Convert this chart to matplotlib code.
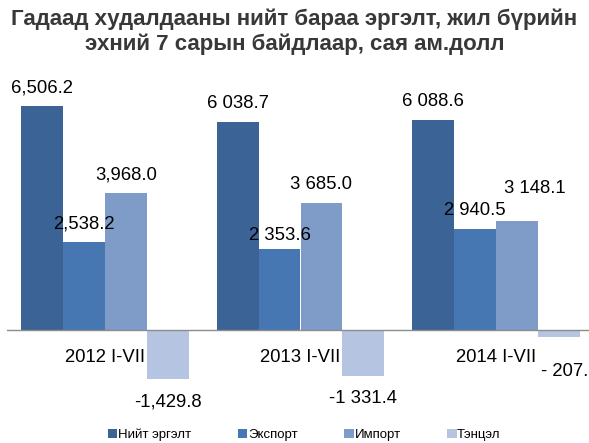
import matplotlib
matplotlib.use("Agg")
import matplotlib.pyplot as plt
import numpy as np

plt.rcParams['font.family'] = ['Liberation Sans', 'DejaVu Sans']

# өгөгдөл
categories = ['2012 I-VII', '2013 I-VII', '2014 I-VII']
series_names = ['Нийт эргэлт', 'Экспорт', 'Импорт', 'Тэнцэл']
turnover = [6506.2, 6038.7, 6088.6]
exports = [2538.2, 2353.6, 2940.5]
imports = [3968.0, 3685.0, 3148.1]
balance = [-1429.8, -1331.4, -207.6]
value_labels = [
    ['6,506.2', '6 038.7', '6 088.6'],
    ['2,538.2', '2 353.6', '2 940.5'],
    ['3,968.0', '3 685.0', '3 148.1'],
    ['-1,429.8', '-1 331.4', '- 207.6'],
]

colors = ['#3C6396', '#4677B2', '#7F9BC8', '#B4C4E1']

W, H = 589, 443
fig = plt.figure(figsize=(W / 100, H / 100), dpi=100)
# тэнхлэгийн байрлал (пикселээр тооцсон)
ax = fig.add_axes([7 / W, (H - 381.75) / H, 587 / W, 293.25 / H])

x = np.arange(len(categories))
w = 0.2143
data = [turnover, exports, imports, balance]

for i, vals in enumerate(data):
    ax.bar(x + (i - 1.5) * w, vals, w, color=colors[i], label=series_names[i], zorder=2)

ax.axhline(0, color='#8c8c8c', lw=1.0, zorder=3)
ax.set_xlim(-0.5, 2.5)
ax.set_ylim(-1500, 7000)
for s in ax.spines.values():
    s.set_visible(False)
ax.set_xticks([])
ax.set_yticks([])

# утгын шошгууд, зарим нь гараар зөөгдсөн
px = 72 / 100
special = {(1, 1): (0, 13), (2, 2): (18, 33), (3, 2): (11, -34)}
for i, vals in enumerate(data):
    for j, v in enumerate(vals):
        dx, dy = special.get((i, j), (0, 18 if v > 0 else -23))
        ax.annotate(value_labels[i][j], (x[j] + (i - 1.5) * w, v),
                    xytext=(dx * px, dy * px), textcoords='offset points',
                    ha='center', va='center', fontsize=13.3, color='#000000',
                    annotation_clip=False, zorder=4)

for j, c in enumerate(categories):
    ax.annotate(c, (x[j], 0), xytext=(0, -27 * px), textcoords='offset points',
                ha='center', va='center', fontsize=13.3, color='#000000', zorder=4)

fig.text(0.5, 1 - 31.5 / H, 'Гадаад худалдааны нийт бараа эргэлт, жил бүрийн\nэхний 7 сарын байдлаар, сая ам.долл',
         ha='center', va='center', fontsize=16, fontweight='bold', color='#383838',
         linespacing=1.2)

leg = fig.legend(loc='center', bbox_to_anchor=(304.5 / W, 1 - 435 / H), ncol=4, frameon=False,
                 fontsize=9.5, handlelength=0.7, handleheight=0.7, handletextpad=0.05,
                 columnspacing=3.55, borderaxespad=0)

fig.savefig('out.png', dpi=100)
